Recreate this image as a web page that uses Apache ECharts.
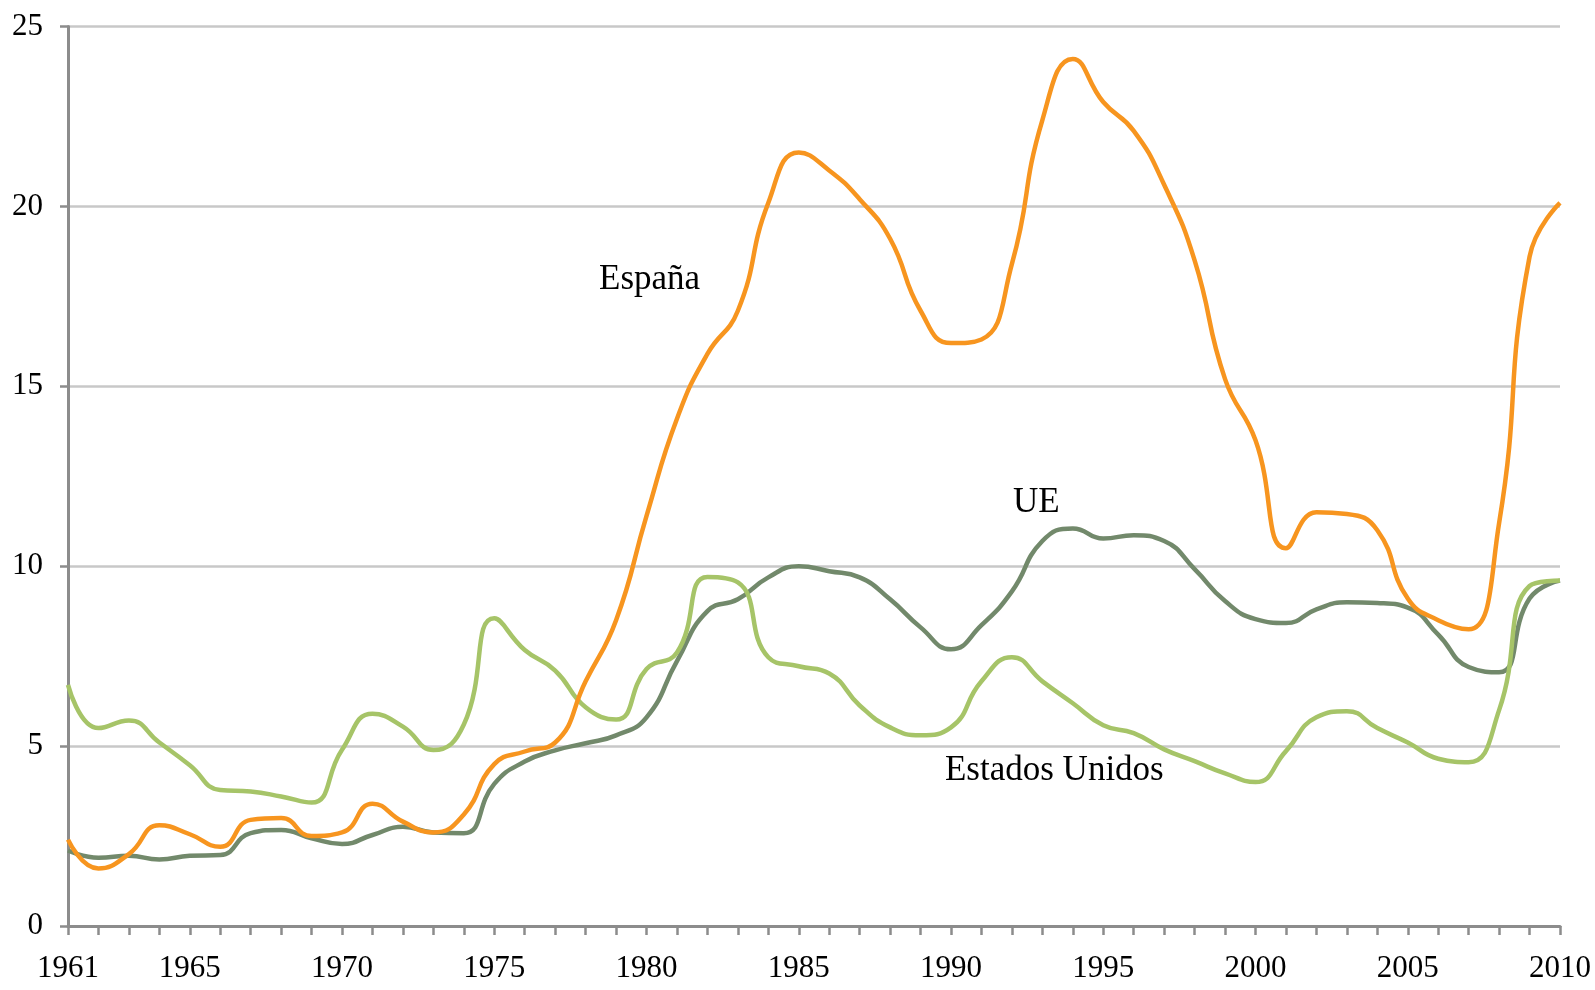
<!DOCTYPE html>
<html lang="es">
<head>
    <meta charset="UTF-8"/>
    <title>España, UE, Estados Unidos</title>
    <script src="https://cdn.jsdelivr.net/npm/echarts@6/dist/echarts.min.js"></script>
    <style>
        body { margin: 0; background: #fff; }
        #chart { width: 1595px; height: 990px; }
    </style>
</head>
<body>
<div id="chart"></div>
<script type="text/javascript">
    var years = [];
    for (var y = 1961; y <= 2010; y++) years.push(String(y));

    var espana = [2.4, 1.6, 2.0, 2.8, 2.55, 2.2, 2.95, 3.0, 2.5, 2.6,
        3.4, 2.9, 2.6, 3.1, 4.5, 4.85, 5.1, 6.8, 8.5, 11.4,
        14.1, 15.9, 17.1, 20.1, 21.5, 21.0, 20.2, 19.1, 17.1, 16.2,
        16.3, 18.4, 22.4, 24.1, 22.9, 22.1, 20.6, 18.5, 15.2, 13.5,
        10.5, 11.5, 11.45, 11.0, 9.1, 8.5, 8.25, 11.2, 18.6, 20.1];

    var ue = [2.1, 1.9, 1.95, 1.85, 1.95, 1.97, 2.58, 2.67, 2.44, 2.28,
        2.53, 2.76, 2.6, 2.58, 3.95, 4.57, 4.88, 5.08, 5.3, 5.8,
        7.36, 8.75, 9.08, 9.69, 10.0, 9.86, 9.69, 9.08, 8.3, 7.69,
        8.36, 9.3, 10.7, 11.05, 10.77, 10.86, 10.7, 9.92, 9.03, 8.53,
        8.42, 8.8, 9.0, 8.98, 8.85, 8.1, 7.2, 7.05, 9.1, 9.6];

    var eeuu = [6.7, 5.5, 5.71, 5.1, 4.47, 3.78, 3.74, 3.6, 3.43, 4.9,
        5.9, 5.54, 4.89, 5.6, 8.55, 7.67, 7.1, 6.08, 5.74, 7.14,
        7.6, 9.7, 9.55, 7.47, 7.22, 7.02, 6.13, 5.52, 5.3, 5.52,
        6.8, 7.47, 6.8, 6.19, 5.58, 5.36, 4.91, 4.58, 4.24, 4.0,
        4.86, 5.8, 5.97, 5.5, 5.1, 4.65, 4.55, 6.0, 9.45, 9.6];

    var serif = '"Liberation Serif", "DejaVu Serif", serif';

    // texto junto a cada curva, anclado en coordenadas del eje
    function nameLabel(text, year, value, dx) {
        return {
            silent: true,
            symbol: 'circle',
            symbolSize: 1,
            itemStyle: {color: 'rgba(0,0,0,0)'},
            data: [{
                coord: [year, value],
                label: {
                    show: true,
                    position: 'inside',
                    offset: [dx, 0],
                    formatter: text,
                    color: '#000',
                    fontFamily: serif,
                    fontSize: 35
                }
            }]
        };
    }

    function line(name, data, color, label) {
        return {
            name: name,
            type: 'line',
            data: data,
            smooth: 0.5,
            symbol: 'none',
            lineStyle: {color: color, width: 4.5},
            itemStyle: {color: color},
            markPoint: label
        };
    }

    var chart = echarts.init(document.getElementById('chart'));
    chart.setOption({
        animation: false,
        backgroundColor: '#fff',
        grid: {left: 68, right: 35, top: 26.5, bottom: 64, containLabel: false},
        xAxis: {
            type: 'category',
            data: years,
            boundaryGap: false,
            axisLine: {lineStyle: {color: '#8c8c8c', width: 3}},
            axisTick: {show: true, interval: 0, length: 9, lineStyle: {color: '#8c8c8c', width: 2.5}},
            axisLabel: {
                interval: function (i, v) { return v === '1961' || (+v) % 5 === 0; },
                margin: 27,
                color: '#000',
                fontFamily: serif,
                fontSize: 31
            },
            splitLine: {show: false}
        },
        yAxis: {
            type: 'value',
            min: 0,
            max: 25,
            interval: 5,
            axisLine: {show: true, lineStyle: {color: '#8c8c8c', width: 3}},
            axisTick: {show: true, length: 8, lineStyle: {color: '#8c8c8c', width: 2.5}},
            axisLabel: {margin: 25, color: '#000', fontFamily: serif, fontSize: 31},
            splitLine: {lineStyle: {color: '#c8c8c8', width: 2.5}}
        },
        series: [
            line('UE', ue, '#72896b', nameLabel('UE', '1993', 11.75, -6)),
            line('Estados Unidos', eeuu, '#a6c468', nameLabel('Estados Unidos', '1993', 4.3, 12)),
            line('España', espana, '#f7951f', nameLabel('España', '1980', 17.95, 3))
        ]
    });
</script>
</body>
</html>
